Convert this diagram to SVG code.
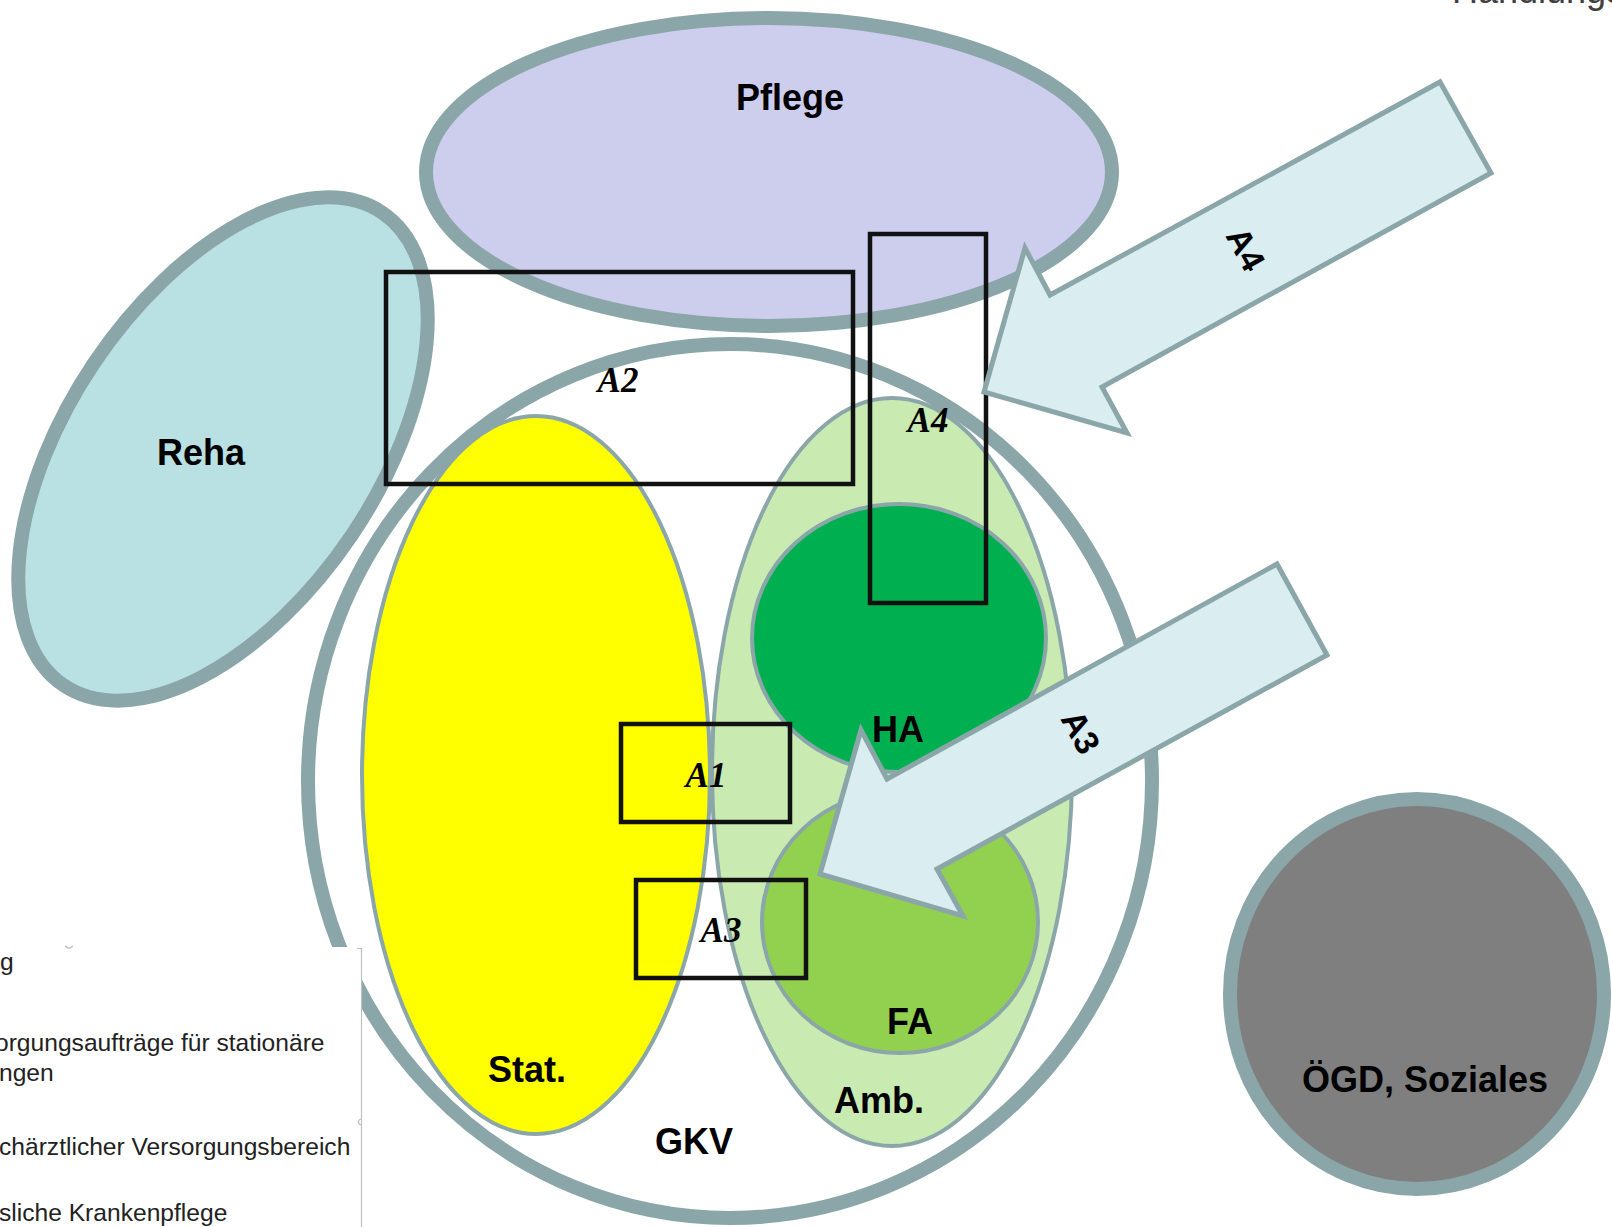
<svg xmlns="http://www.w3.org/2000/svg" width="1612" height="1227" viewBox="0 0 1612 1227">
<style>
.big{stroke:#8BA6A9;stroke-width:14}
.thin{stroke:#8BA6A9;stroke-width:4}
.arrow{fill:#DAEDF0;stroke:#8BA6A9;stroke-width:5;stroke-linejoin:miter}
.box{fill:none;stroke:#111;stroke-width:4.5}
.lbl{font-family:"Liberation Sans",Arial,sans-serif;font-weight:bold;font-size:36px;fill:#000;text-anchor:middle}
.alb{font-family:"Liberation Serif","Times New Roman",serif;font-weight:bold;font-style:italic;font-size:35px;fill:#000;text-anchor:middle}
.arl{font-family:"Liberation Sans",Arial,sans-serif;font-weight:bold;font-size:34px;fill:#000;text-anchor:middle;dominant-baseline:central}
.note{font-family:"Liberation Sans",Arial,sans-serif;font-size:24.6px;fill:#222}
</style>
<rect width="1612" height="1227" fill="#fff"/>
<text x="1452" y="3" class="note" style="font-size:36px;fill:#404040">Handlungsfelder</text>
<g id="gkv"><ellipse cx="730" cy="781" rx="422" ry="437" fill="#fff" class="big"/><text x="694" y="1154" class="lbl">GKV</text></g>
<g id="pflege"><ellipse cx="769" cy="172" rx="343" ry="154" fill="#CDCDED" class="big"/><text x="790" y="110" class="lbl">Pflege</text></g>
<g id="reha"><ellipse cx="0" cy="0" rx="285" ry="155" transform="translate(223 449) rotate(-56)" fill="#B9E0E2" class="big"/><text x="201" y="465" class="lbl">Reha</text></g>
<g id="stat"><ellipse cx="536" cy="775" rx="174" ry="359" fill="#FFFF00" class="thin"/><text x="527" y="1082" class="lbl">Stat.</text></g>
<g id="amb"><ellipse cx="892" cy="772" rx="180" ry="374" fill="#C9EBB2" class="thin"/><text x="879" y="1113" class="lbl">Amb.</text></g>
<g id="ha"><ellipse cx="899" cy="638" rx="147" ry="134" fill="#00B050" class="thin"/><text x="898" y="742" class="lbl">HA</text></g>
<g id="fa"><ellipse cx="900" cy="922" rx="138" ry="131" fill="#92D050" class="thin"/><text x="910" y="1034" class="lbl">FA</text></g>
<g id="oegd"><ellipse cx="1417" cy="994" rx="187" ry="195" fill="#7F7F7F" class="big"/><text x="1425" y="1092" class="lbl">ÖGD, Soziales</text></g>
<g id="a2"><rect x="386" y="272" width="467" height="212" class="box"/><text x="618" y="392" class="alb">A2</text></g>
<g id="a4"><rect x="870" y="234" width="116" height="369" class="box"/><text x="928" y="432" class="alb">A4</text></g>
<g id="a1"><rect x="621" y="724" width="169" height="98" class="box"/><text x="706" y="787" class="alb">A1</text></g>
<g id="a3"><rect x="636" y="880" width="170" height="98" class="box"/><text x="721" y="942" class="alb">A3</text></g>
<g id="connectors">
<g id="arrow-a4"><polygon class="arrow" points="984,392 1025,248 1050,295 1440,82 1491,173 1102,387 1127,433"/><text class="arl" transform="translate(1246 249) rotate(61)">A4</text></g>
<g id="arrow-a3"><polygon class="arrow" points="820,874 861,730 887,779 1277,564 1327,655 937,869 963,916"/><text class="arl" transform="translate(1081 732) rotate(61)">A3</text></g>
</g>
<g id="legend">
<rect x="0" y="947" width="361" height="280" fill="#fff"/>
<line x1="361.5" y1="949" x2="361.5" y2="1227" stroke="#BFBFBF" stroke-width="1.2"/>
<path d="M357 948.5 H361.5 V952" fill="none" stroke="#BFBFBF" stroke-width="1.2"/>
<path d="M65 946 Q69 950 73 946" fill="none" stroke="#BFBFBF" stroke-width="1.2"/>
<path d="M361.5 1119 A3 3 0 0 0 361.5 1125" fill="none" stroke="#BFBFBF" stroke-width="1.2"/>
<text x="0" y="970" class="note">g</text>
<text x="-5" y="1051" class="note">orgungsaufträge für stationäre</text>
<text x="-1" y="1081" class="note">ngen</text>
<text x="-1" y="1155" class="note">chärztlicher Versorgungsbereich</text>
<text x="-1" y="1221" class="note">sliche Krankenpflege</text>
</g>
</svg>
